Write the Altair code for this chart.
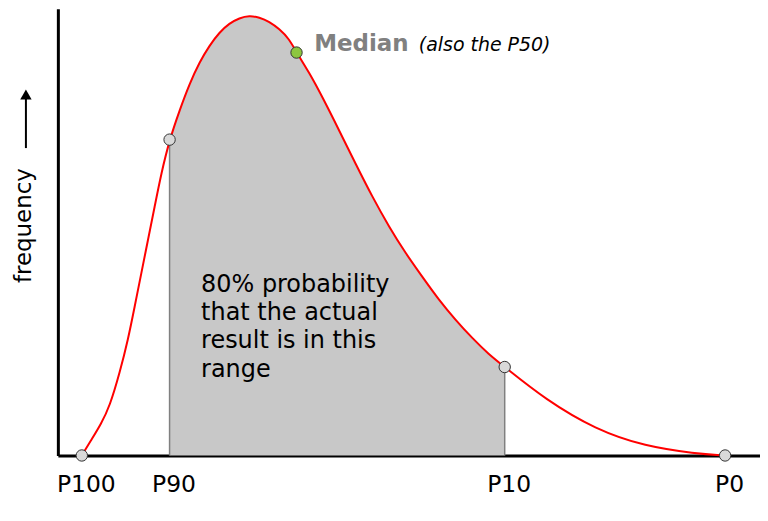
import altair as alt
import pandas as pd

# ---- data (x: outcome units 0-100, y: frequency 0-100) ----
curve_x = [3.41, 4.79, 6.11, 7.39, 8.81, 9.99, 10.94, 11.89, 12.83, 13.78, 14.73, 15.91,
           17.33, 18.75, 20.17, 21.59, 23.01, 24.43, 25.85, 27.27, 28.69, 30.11, 31.53,
           32.95, 33.99, 35.80, 37.68, 40.06, 42.43, 44.79, 47.16, 49.53, 51.89, 54.26,
           56.63, 58.99, 61.36, 63.64, 69.46, 76.56, 83.66, 90.77, 95.03]
curve_y = [0.0, 3.57, 6.92, 11.0, 18.53, 25.89, 33.33, 40.85, 48.21, 55.65, 63.17, 70.69,
           77.23, 83.19, 88.01, 91.74, 94.71, 96.72, 97.92, 98.44, 98.06, 97.10, 95.47,
           93.23, 90.18, 85.71, 80.21, 72.77, 65.2, 57.88, 51.19, 45.24, 40.03, 34.82,
           30.36, 26.3, 22.66, 19.8, 12.5, 5.80, 2.01, 0.45, 0.0]

pct_labels = ["P100", "P90", "P10", "P0"]
pct_x = [3.41, 15.91, 63.64, 95.03]
pct_y = [0.0, 70.69, 19.8, 0.0]

median_x = [33.99]
median_y = [90.18]

range_lo = 15.91
range_hi = 63.64

# annotation anchors (data units)
median_label = ["Median"]
median_note = ["(also the P50)"]
median_label_x = [36.5]
median_note_x = [51.4]
median_label_y = [90.6]
body_text = ["80% probability", "that the actual", "result is in this", "range"]
body_x = [20.4]
body_y = [36.7]
arrow_x = [-4.55]
arrow_y0 = [68.8]
arrow_y1 = [80.0]
arrow_tip = [80.8]

FONT = "DejaVu Sans"

curve = pd.DataFrame({"x": curve_x, "y": curve_y})
pcts = pd.DataFrame({"x": pct_x, "y": pct_y, "label": pct_labels})

xs = alt.Scale(domain=[0, 100], nice=False, zero=False)
ys = alt.Scale(domain=[0, 100], nice=False, zero=False)

label_expr = " : ".join(
    f"datum.value == {v} ? '{l}'" for v, l in zip(pct_x, pct_labels)
) + " : ''"

x_axis = alt.Axis(values=pct_x, labelExpr=label_expr, ticks=False, tickSize=0,
                  grid=False, domainColor="black", domainWidth=3,
                  labelFont=FONT, labelFontSize=23.5, labelColor="black",
                  labelPadding=17, labelOffset=4, labelFlush=False, title=None)
y_axis = alt.Axis(labels=False, ticks=False, tickSize=0, grid=False,
                  domainColor="black", domainWidth=3,
                  title="frequency", titleFont=FONT, titleFontSize=23,
                  titleFontWeight="normal", titleColor="black", titlePadding=22,
                  titleY=217)

base = alt.Chart(curve)

area = base.mark_area(color="#c8c8c8", interpolate="basis").transform_filter(
    (alt.datum.x >= range_lo) & (alt.datum.x <= range_hi)
).encode(
    x=alt.X("x:Q", scale=xs, axis=x_axis),
    y=alt.Y("y:Q", scale=ys, axis=y_axis),
)

edges = alt.Chart(pcts).mark_rule(color="#808080", strokeWidth=1.5).transform_filter(
    (alt.datum.x >= range_lo) & (alt.datum.x <= range_hi)
).encode(x=alt.X("x:Q", scale=xs), y=alt.Y("y:Q", scale=ys), y2=alt.datum(0))

line = base.mark_line(color="#ff0000", strokeWidth=2, interpolate="basis").encode(
    x=alt.X("x:Q", scale=xs), y=alt.Y("y:Q", scale=ys)
)

dots = alt.Chart(pcts).mark_point(filled=True, size=130, fill="#d9d9d9",
                                  stroke="#333333", strokeWidth=1, opacity=1).encode(
    x=alt.X("x:Q", scale=xs), y=alt.Y("y:Q", scale=ys)
)

med = alt.Chart(pd.DataFrame({"x": median_x, "y": median_y})).mark_point(
    filled=True, size=130, fill="#8dc63f", stroke="#333333", strokeWidth=1, opacity=1
).encode(x=alt.X("x:Q", scale=xs), y=alt.Y("y:Q", scale=ys))

med_txt = alt.Chart(pd.DataFrame({"x": median_label_x, "y": median_label_y, "t": median_label})).mark_text(
    font=FONT, fontSize=23, fontWeight="bold", color="#808080", align="left", baseline="alphabetic"
).encode(x=alt.X("x:Q", scale=xs), y=alt.Y("y:Q", scale=ys), text="t:N")

note_txt = alt.Chart(pd.DataFrame({"x": median_note_x, "y": median_label_y, "t": median_note})).mark_text(
    font=FONT, fontSize=19, fontStyle="italic", color="black", align="left", baseline="alphabetic"
).encode(x=alt.X("x:Q", scale=xs), y=alt.Y("y:Q", scale=ys), text="t:N")

body = alt.Chart(pd.DataFrame({"x": body_x, "y": body_y, "t": ["\n".join(body_text)]})).mark_text(
    font=FONT, fontSize=24, color="black", align="left", baseline="alphabetic",
    lineBreak="\n", lineHeight=28.5
).encode(x=alt.X("x:Q", scale=xs), y=alt.Y("y:Q", scale=ys), text="t:N")

arrow_shaft = alt.Chart(pd.DataFrame({"x": arrow_x, "y": arrow_y0, "y2": arrow_y1})).mark_rule(
    color="black", strokeWidth=2
).encode(x=alt.X("x:Q", scale=xs), y=alt.Y("y:Q", scale=ys), y2="y2:Q")

arrow_head = alt.Chart(pd.DataFrame({"x": arrow_x, "y": arrow_tip})).mark_point(
    shape="triangle-up", filled=True, size=130, color="black", opacity=1
).encode(x=alt.X("x:Q", scale=xs), y=alt.Y("y:Q", scale=ys))

chart = alt.layer(area, edges, line, dots, med, med_txt, note_txt, body, arrow_shaft, arrow_head).properties(
    width=704, height=448,
    autosize=alt.AutoSizeParams(type="none"),
    padding={"left": 50, "top": 0, "right": 0, "bottom": 57},
    background="white",
).configure_view(stroke=None)

chart.save("out.html", embed_options={"renderer": "svg", "actions": False})
